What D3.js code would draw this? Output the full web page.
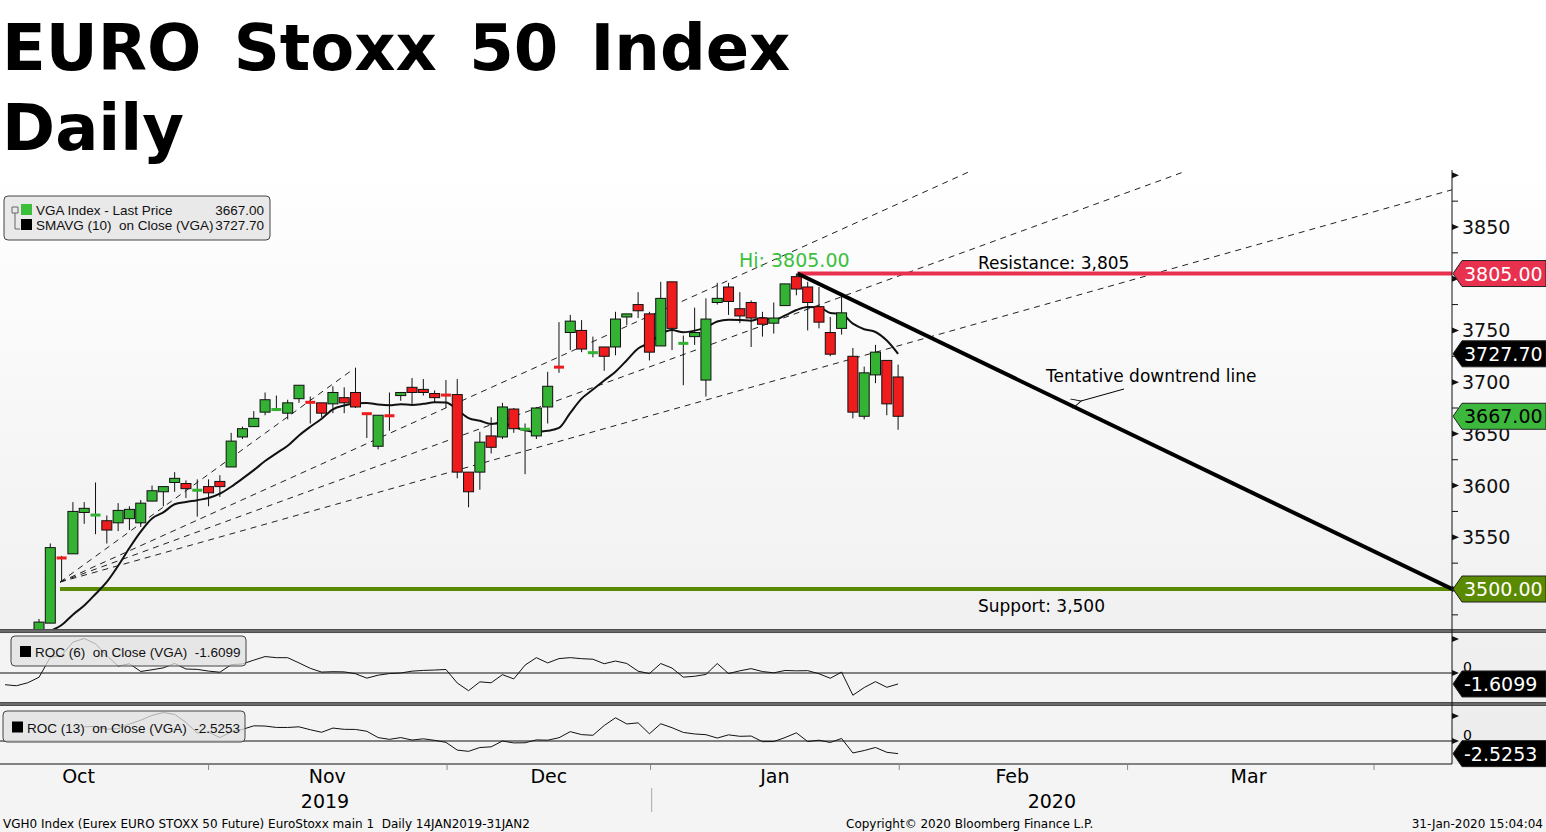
<!DOCTYPE html>
<html><head><meta charset="utf-8">
<script src="https://cdn.jsdelivr.net/npm/d3@7"></script>
<style>body{margin:0;background:#fff}svg{display:block}text{white-space:pre}</style>
</head><body><svg id="c" width="1546" height="832"></svg>
<script>
// ---------- data ----------
const priorCloses = [3480,3470,3475,3490,3460,3440,3420,3405,3425];
const opens  = [3455,3467,3531,3534,3574,3571,3566,3564,3568,3564,3585,3594,3603,3602,3595,3599,3604,3618,3647,3657,3671,3673,3670,3684,3681,3680,3679,3685,3690,3670,3638,3668,3687,3695,3693,3689,3688,3688,3613,3613,3648,3647,3674,3654,3648,3676,3715,3748,3750,3728,3734,3734,3763,3775,3766,3735,3797,3737,3744,3702,3777,3792,3771,3777,3762,3757,3774,3802,3792,3773,3748,3752,3725,3667,3707,3721,3705];
const highs  = [3471,3544,3532,3584,3584,3603,3571,3583,3580,3586,3600,3599,3613,3605,3606,3606,3610,3651,3657,3672,3690,3687,3683,3697,3686,3680,3696,3695,3714,3670,3668,3690,3690,3704,3703,3692,3702,3703,3613,3652,3666,3680,3675,3660,3676,3710,3758,3765,3760,3744,3734,3768,3766,3787,3768,3797,3797,3745,3772,3781,3796,3796,3787,3779,3768,3777,3795,3805,3797,3792,3763,3786,3733,3715,3736,3721,3717];
const lows   = [3450,3467,3507,3534,3563,3553,3544,3556,3557,3560,3585,3580,3594,3588,3570,3580,3589,3618,3645,3657,3668,3672,3664,3680,3660,3666,3670,3670,3675,3646,3635,3653,3682,3679,3687,3680,3675,3607,3579,3596,3631,3645,3651,3611,3645,3660,3709,3731,3729,3724,3711,3726,3755,3762,3721,3735,3731,3697,3736,3686,3775,3765,3757,3734,3744,3747,3774,3784,3750,3752,3725,3746,3665,3664,3699,3668,3654];
const closes = [3468,3540,3529,3575,3578,3572,3557,3576,3577,3583,3595,3599,3607,3597,3596,3593,3599,3643,3655,3665,3683,3674,3680,3697,3680,3670,3690,3680,3676,3669,3668,3667,3690,3690,3690,3685,3687,3613,3594,3642,3637,3676,3655,3655,3675,3696,3714,3759,3732,3729,3725,3761,3766,3769,3729,3781,3752,3738,3748,3761,3781,3778,3764,3762,3756,3762,3795,3790,3777,3758,3727,3767,3671,3709,3729,3679,3667];
const monthLabels = ["Oct","Nov","Dec","Jan","Feb","Mar"];
const monthLabelPos = [3.5,25.5,45.1,65.1,86.1,107.0];
const monthTickPos = [15.0,36.1,54.1,76.1,96.3,118.1];
const yearLabels = ["2019","2020"];
const yearLabelPos = [25.3,89.6];
const yearSplitPos = 54.2;
const priceTicks = [3550,3600,3650,3700,3750,3850];
const priceTickMarks = [3500,3550,3600,3650,3700,3750,3800,3850,3900];
const trendFan = [[1.86,3506.7,82.2,3903],[1.86,3506.7,101.2,3903],[1.86,3506.7,125,3886],[1.86,3506.7,27.7,3711.7]];
const downtrend = [67.1,3805,125,3500];
const resistance = 3805, support = 3500, supportStart = 1.86, resistanceStart = 67.1;

// ---------- scales ----------
const svg = d3.select("#c");
const F = "DejaVu Sans, Verdana, sans-serif";
const FL = "Liberation Sans, Arial, sans-serif";
const x = d3.scaleLinear().domain([0,125]).range([39,1452]);
const y = d3.scaleLinear().domain([3500,3850]).range([589,227]);
const yR6 = d3.scaleLinear().domain([-3,3]).range([693.4,652.6]);
const yR13 = d3.scaleLinear().domain([-3,3]).range([756,726]);

const defs = svg.append("defs");
const g1 = defs.append("linearGradient").attr("id","bg").attr("x1",0).attr("y1",0).attr("x2",0).attr("y2",1);
g1.append("stop").attr("offset",0).attr("stop-color","#ffffff");
g1.append("stop").attr("offset",1).attr("stop-color","#ececec");
[["cMain",165,465],["cR6",634,68],["cR13",706,58]].forEach(([id,yy,h])=>{
  defs.append("clipPath").attr("id",id).append("rect").attr("x",0).attr("y",yy).attr("width",1452).attr("height",h);
});
defs.append("marker").attr("id","arr").attr("viewBox","0 0 12 10").attr("refX",1).attr("refY",5)
  .attr("markerWidth",12).attr("markerHeight",10).attr("orient","auto")
  .append("path").attr("d","M11,0 L1,5 L11,10").attr("fill","none").attr("stroke","#000").attr("stroke-width",1);

// title
svg.append("text").attr("x",2).attr("y",70).attr("font-family",F).attr("font-weight","bold").attr("font-size",64).attr("word-spacing",10).text("EURO Stoxx 50 Index");
svg.append("text").attr("x",2).attr("y",150).attr("font-family",F).attr("font-weight","bold").attr("font-size",64).text("Daily");

// backgrounds
svg.append("rect").attr("x",0).attr("y",165).attr("width",1546).attr("height",600).attr("fill","url(#bg)");
svg.append("rect").attr("x",0).attr("y",634).attr("width",1452).attr("height",68).attr("fill","#f4f4f4");
svg.append("rect").attr("x",0).attr("y",706).attr("width",1452).attr("height",58).attr("fill","#f4f4f4");
svg.append("rect").attr("x",0).attr("y",764).attr("width",1546).attr("height",68).attr("fill","#f4f4f4");

// ---------- main panel ----------
const main = svg.append("g").attr("clip-path","url(#cMain)");
trendFan.forEach(t=>{
  main.append("line").attr("x1",x(t[0])).attr("y1",y(t[1])).attr("x2",x(t[2])).attr("y2",y(t[3]))
    .attr("stroke","#222").attr("stroke-width",1).attr("stroke-dasharray","6,5");
});
main.append("line").attr("x1",x(supportStart)).attr("x2",1452).attr("y1",y(support)).attr("y2",y(support)).attr("stroke","#5a8a00").attr("stroke-width",4);
main.append("line").attr("x1",x(resistanceStart)).attr("x2",1452).attr("y1",y(resistance)).attr("y2",y(resistance)).attr("stroke","#e8304f").attr("stroke-width",4);

// SMA
const all = priorCloses.concat(closes);
const off = priorCloses.length;
const sma = [];
for(let k=9;k<all.length;k++){ sma.push([k-off, d3.mean(all.slice(k-9,k+1))]); }
main.append("path").datum(sma).attr("fill","none").attr("stroke","#111").attr("stroke-width",2)
  .attr("d",d3.line().x(d=>x(d[0])).y(d=>y(d[1])).curve(d3.curveMonotoneX));

// candles
const candles = closes.map((c,i)=>({i,o:opens[i],h:highs[i],l:lows[i],c}));
const cg = main.selectAll("g.cd").data(candles).join("g");
cg.append("line").attr("x1",d=>x(d.i)).attr("x2",d=>x(d.i)).attr("y1",d=>y(d.h)).attr("y2",d=>y(d.l)).attr("stroke","#111").attr("stroke-width",1);
cg.each(function(d){
  const g = d3.select(this);
  const top = y(Math.max(d.o,d.c)), bot = y(Math.min(d.o,d.c));
  const up = d.c>=d.o, col = up ? "#34b233" : "#ee1c1c";
  if (bot-top < 2.5){
    g.append("rect").attr("x",x(d.i)-5).attr("y",(top+bot)/2-1.5).attr("width",10).attr("height",3).attr("fill",col);
  } else {
    g.append("rect").attr("x",x(d.i)-5).attr("y",top).attr("width",10).attr("height",bot-top).attr("fill",col).attr("stroke","#111").attr("stroke-width",1);
  }
});
main.append("line").attr("x1",x(downtrend[0])).attr("y1",y(downtrend[1])).attr("x2",x(downtrend[2])).attr("y2",y(downtrend[3])).attr("stroke","#000").attr("stroke-width",4);

// annotations
svg.append("text").attr("x",739).attr("y",267).attr("font-family",F).attr("font-size",19).attr("fill","#3cbf3c").text("Hi: 3805.00");
svg.append("text").attr("x",978).attr("y",269).attr("font-family",F).attr("font-size",17).text("Resistance: 3,805");
svg.append("text").attr("x",1046).attr("y",382).attr("font-family",F).attr("font-size",17).text("Tentative downtrend line");
svg.append("line").attr("x1",1124).attr("y1",389).attr("x2",1081).attr("y2",401).attr("stroke","#000").attr("stroke-width",1).attr("marker-end","url(#arr)");
svg.append("text").attr("x",978).attr("y",612).attr("font-family",F).attr("font-size",17).text("Support: 3,500");

// ---------- ROC panels ----------
function roc(n){ const r=[]; for(let k=n;k<all.length;k++) r.push([k-off,(all[k]/all[k-n]-1)*100]); return r; }
[[6,yR6,"cR6"],[13,yR13,"cR13"]].forEach(([n,sc,clip])=>{
  const g = svg.append("g").attr("clip-path",`url(#${clip})`);
  g.append("line").attr("x1",0).attr("x2",1452).attr("y1",sc(0)).attr("y2",sc(0)).attr("stroke","#111").attr("stroke-width",1);
  g.append("path").datum(roc(n)).attr("fill","none").attr("stroke","#111").attr("stroke-width",1)
    .attr("d",d3.line().x(d=>x(d[0])).y(d=>sc(d[1])));
});

// separators
[629,702].forEach(yy=>{
  svg.append("rect").attr("x",0).attr("y",yy).attr("width",1546).attr("height",4).attr("fill","#4d4d4d");
  svg.append("rect").attr("x",0).attr("y",yy+1.5).attr("width",1546).attr("height",1).attr("fill","#888");
});

// legends
function legend(x0,y0,w,h,rows){
  svg.append("rect").attr("x",x0).attr("y",y0).attr("width",w).attr("height",h).attr("rx",4)
    .attr("fill","rgba(225,225,225,0.75)").attr("stroke","#444").attr("stroke-width",1);
  rows.forEach((r,k)=>{
    const yy=y0+ (rows.length>1? 19+k*15 : h/2+6);
    svg.append("rect").attr("x",r.sx).attr("y",yy-11).attr("width",11).attr("height",11).attr("fill",r.c);
    svg.append("text").attr("x",r.sx+15).attr("y",yy).attr("font-family",FL).attr("font-size",13.5).attr("fill","#111").text(r.t);
    if(r.v) svg.append("text").attr("x",x0+w-6).attr("y",yy).attr("text-anchor","end").attr("font-family",FL).attr("font-size",13.5).attr("fill","#111").text(r.v);
  });
}
legend(4,196,266,44,[{sx:21,c:"#3cc03c",t:"VGA Index - Last Price",v:"3667.00"},{sx:21,c:"#000",t:"SMAVG (10)  on Close (VGA)",v:"3727.70"}]);
svg.append("path").attr("d","M12,207 h6 v6 h-6 z M15,213 v16 h5").attr("fill","none").attr("stroke","#666");
legend(11,636,235,30,[{sx:20,c:"#000",t:"ROC (6)  on Close (VGA)  -1.6099"}]);
legend(3,711,242,31,[{sx:12,c:"#000",t:"ROC (13)  on Close (VGA)  -2.5253"}]);

// ---------- right axis ----------
svg.append("line").attr("x1",1452).attr("x2",1452).attr("y1",170).attr("y2",764).attr("stroke","#111");
d3.range(3475,3900,50).forEach(v=>{ const yy=y(v); if(yy<170||yy>628) return;
  svg.append("line").attr("x1",1452).attr("x2",1458).attr("y1",yy).attr("y2",yy).attr("stroke","#111"); });
priceTickMarks.forEach(v=>{ const yy=y(v);
  svg.append("path").attr("d",`M1452,${yy-3} L1459,${yy} L1452,${yy+3} Z`).attr("fill","#111"); });
priceTicks.forEach(v=>{
  svg.append("text").attr("x",1462).attr("y",y(v)+7).attr("font-family",F).attr("font-size",19).attr("fill","#111").text(v);
});
[[yR6,5],[yR6,0],[yR13,0],[yR13,5]].forEach(([sc,v])=>{
  const yy=sc(v); if(yy<636) return; svg.append("path").attr("d",`M1452,${yy-3} L1459,${yy} L1452,${yy+3} Z`).attr("fill","#111");
});
svg.append("text").attr("x",1463).attr("y",yR6(0)-1).attr("font-family",F).attr("font-size",14).text("0");
svg.append("text").attr("x",1463).attr("y",yR13(0)-1).attr("font-family",F).attr("font-size",14).text("0");
function tag(yy,txt,fill,tc){
  svg.append("path").attr("d",`M1453,${yy} L1462,${yy-13} H1546 V${yy+13} H1462 Z`).attr("fill",fill).attr("stroke","#222").attr("stroke-width",1);
  svg.append("text").attr("x",1464).attr("y",yy+7).attr("font-family",F).attr("font-size",19).attr("fill",tc).text(txt);
}
tag(y(3805),"3805.00","#e8304f","#fff");
tag(y(sma[sma.length-1][1]),"3727.70","#000","#fff");
tag(y(3667),"3667.00","#3cb83c","#000");
tag(y(3500),"3500.00","#5a8a00","#fff");
tag(yR6(-1.6099),"-1.6099","#000","#fff");
tag(yR13(-2.5253),"-2.5253","#000","#fff");

// ---------- bottom axis ----------
svg.append("line").attr("x1",0).attr("x2",1452).attr("y1",764).attr("y2",764).attr("stroke","#111");
monthTickPos.forEach(p=>svg.append("line").attr("x1",x(p)).attr("x2",x(p)).attr("y1",764).attr("y2",770).attr("stroke","#888"));
monthLabels.forEach((m,k)=>svg.append("text").attr("x",x(monthLabelPos[k])).attr("y",783).attr("text-anchor","middle").attr("font-family",F).attr("font-size",19).text(m));
yearLabels.forEach((m,k)=>svg.append("text").attr("x",x(yearLabelPos[k])).attr("y",808).attr("text-anchor","middle").attr("font-family",F).attr("font-size",19).text(m));
svg.append("line").attr("x1",x(yearSplitPos)).attr("x2",x(yearSplitPos)).attr("y1",788).attr("y2",812).attr("stroke","#aaa");
svg.append("text").attr("x",3).attr("y",828).attr("font-family",F).attr("font-size",12).text("VGH0 Index (Eurex EURO STOXX 50 Future) EuroStoxx main 1  Daily 14JAN2019-31JAN2");
svg.append("text").attr("x",846).attr("y",828).attr("font-family",F).attr("font-size",12).text("Copyright© 2020 Bloomberg Finance L.P.");
svg.append("text").attr("x",1543).attr("y",828).attr("text-anchor","end").attr("font-family",F).attr("font-size",12).text("31-Jan-2020 15:04:04");
</script></body></html>
